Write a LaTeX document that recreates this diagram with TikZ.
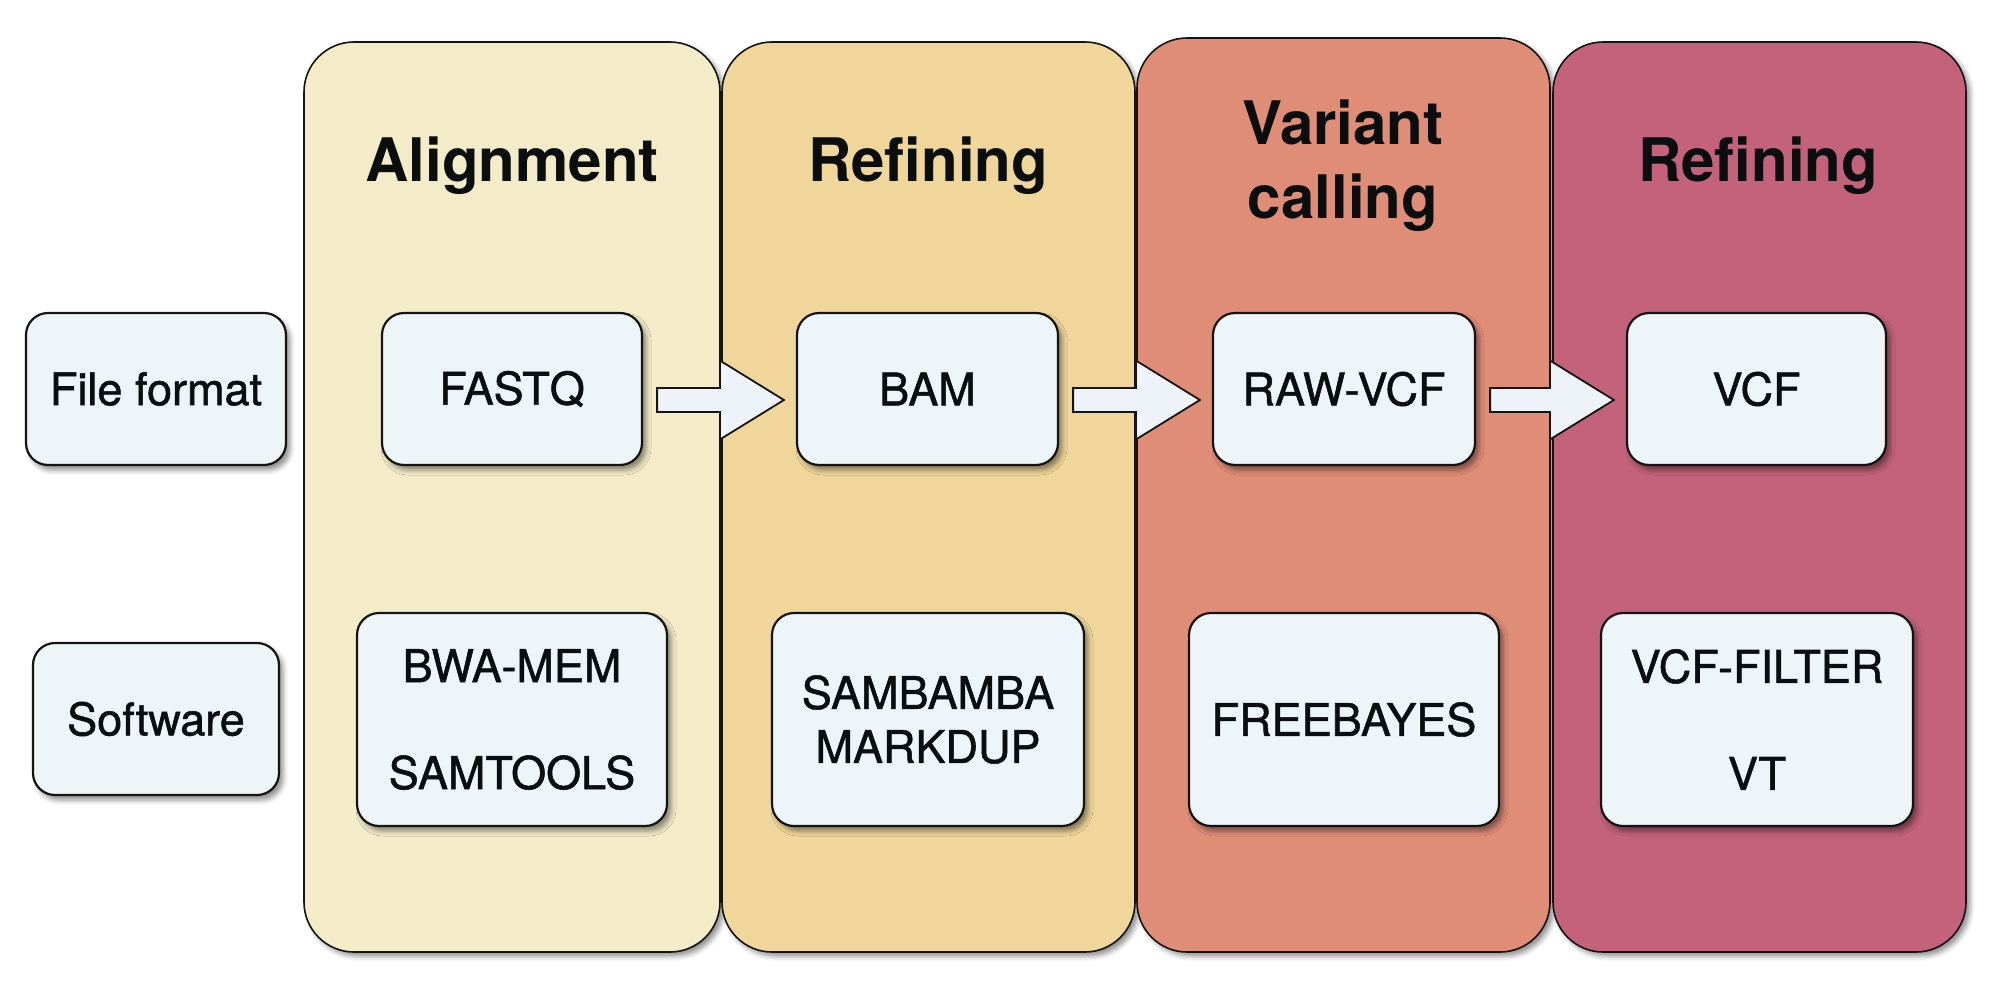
\documentclass[tikz,border=0pt]{standalone}
\usepackage{fontspec}
\setmainfont{TeX Gyre Heros}
\newfontface\medfont{TeX Gyre Heros}[FakeBold=1.2]
\usetikzlibrary{calc,shadows.blur}
\definecolor{colA}{RGB}{244,236,201}
\definecolor{colB}{RGB}{240,214,154}
\definecolor{colC}{RGB}{224,141,120}
\definecolor{colD}{RGB}{195,98,122}
\definecolor{boxfill}{RGB}{238,245,249}
\definecolor{arrfill}{RGB}{238,243,250}
\definecolor{edge}{RGB}{20,20,20}
\definecolor{ink}{RGB}{10,14,14}
\tikzset{
  column/.style={draw=edge, line width=1.6pt, rounded corners=50pt, inner sep=0pt,
    blur shadow={shadow xshift=4pt, shadow yshift=-4pt, shadow blur radius=5pt, shadow opacity=45}},
  infobox/.style={draw=edge, line width=2.2pt, fill=boxfill, rounded corners=22pt, inner sep=0pt,
    align=center, text=ink, font=\fontsize{45}{54}\medfont,
    blur shadow={shadow xshift=4pt, shadow yshift=-5pt, shadow blur radius=5pt, shadow opacity=45}},
  title/.style={align=center, font=\fontsize{60}{74}\selectfont\bfseries, text=ink},
  blockarr/.style={draw=edge, line width=1.8pt, fill=arrfill}
}
\newcommand\blockarrow[2]{%
  \draw[blockarr] let \p1=($(#1.east)+(14,11)$), \p2=($(#2.west)+(-12,11)$) in
    (\x1,{\y1+12pt}) -- ({\x2-64pt},{\y1+12pt}) -- ({\x2-64pt},{\y1+39.5pt}) -- (\x2,\y1)
    -- ({\x2-64pt},{\y1-39.5pt}) -- ({\x2-64pt},{\y1-12pt}) -- (\x1,{\y1-12pt}) -- cycle;}
\begin{document}
\begin{tikzpicture}[x=1pt,y=-1pt]
\useasboundingbox (0,0) rectangle (2004,998);
% columns
\node[column, fill=colA, minimum width=416pt, minimum height=910pt] (colA) at (512,497) {};
\node[column, fill=colB, minimum width=413pt, minimum height=910pt] (colB) at (928.5,497) {};
\node[column, fill=colC, minimum width=413pt, minimum height=914pt] (colC) at (1343.5,495) {};
\node[column, fill=colD, minimum width=413pt, minimum height=910pt] (colD) at (1759.5,497) {};
% titles
\node[title] (tA) at (512,166) {Alignment};
\node[title] (tB) at (928,166) {Refining};
\node[title] (tC) at (1343,166) {Variant\\calling};
\node[title] (tD) at (1758,166) {Refining};
% row labels
\node[infobox, minimum width=260pt, minimum height=152pt] (ff) at (156,389) {File format};
\node[infobox, minimum width=246pt, minimum height=152pt] (sw) at (156,719) {Software};
% file formats
\node[infobox, minimum width=260pt, minimum height=152pt] (fastq) at (512,389) {FASTQ};
\node[infobox, minimum width=261pt, minimum height=152pt] (bam) at (927.5,389) {BAM};
\node[infobox, minimum width=262pt, minimum height=152pt] (raw) at (1344,389) {RAW-VCF};
\node[infobox, minimum width=259pt, minimum height=152pt] (vcf) at (1756.5,389) {VCF};
% software
\node[infobox, minimum width=310pt, minimum height=213pt, font=\fontsize{45}{53.5}\medfont] (bwa) at (512,719.5) {BWA-MEM\\[53.5pt]SAMTOOLS};
\node[infobox, minimum width=312pt, minimum height=213pt] (samb) at (928,719.5) {SAMBAMBA\\MARKDUP};
\node[infobox, minimum width=310pt, minimum height=213pt] (fb) at (1344,719.5) {FREEBAYES};
\node[infobox, minimum width=312pt, minimum height=213pt, font=\fontsize{45}{53.5}\medfont] (vf) at (1757,719.5) {VCF-FILTER\\[53.5pt]VT};
% arrows
\blockarrow{fastq}{bam}
\blockarrow{bam}{raw}
\blockarrow{raw}{vcf}
\end{tikzpicture}
\end{document}
